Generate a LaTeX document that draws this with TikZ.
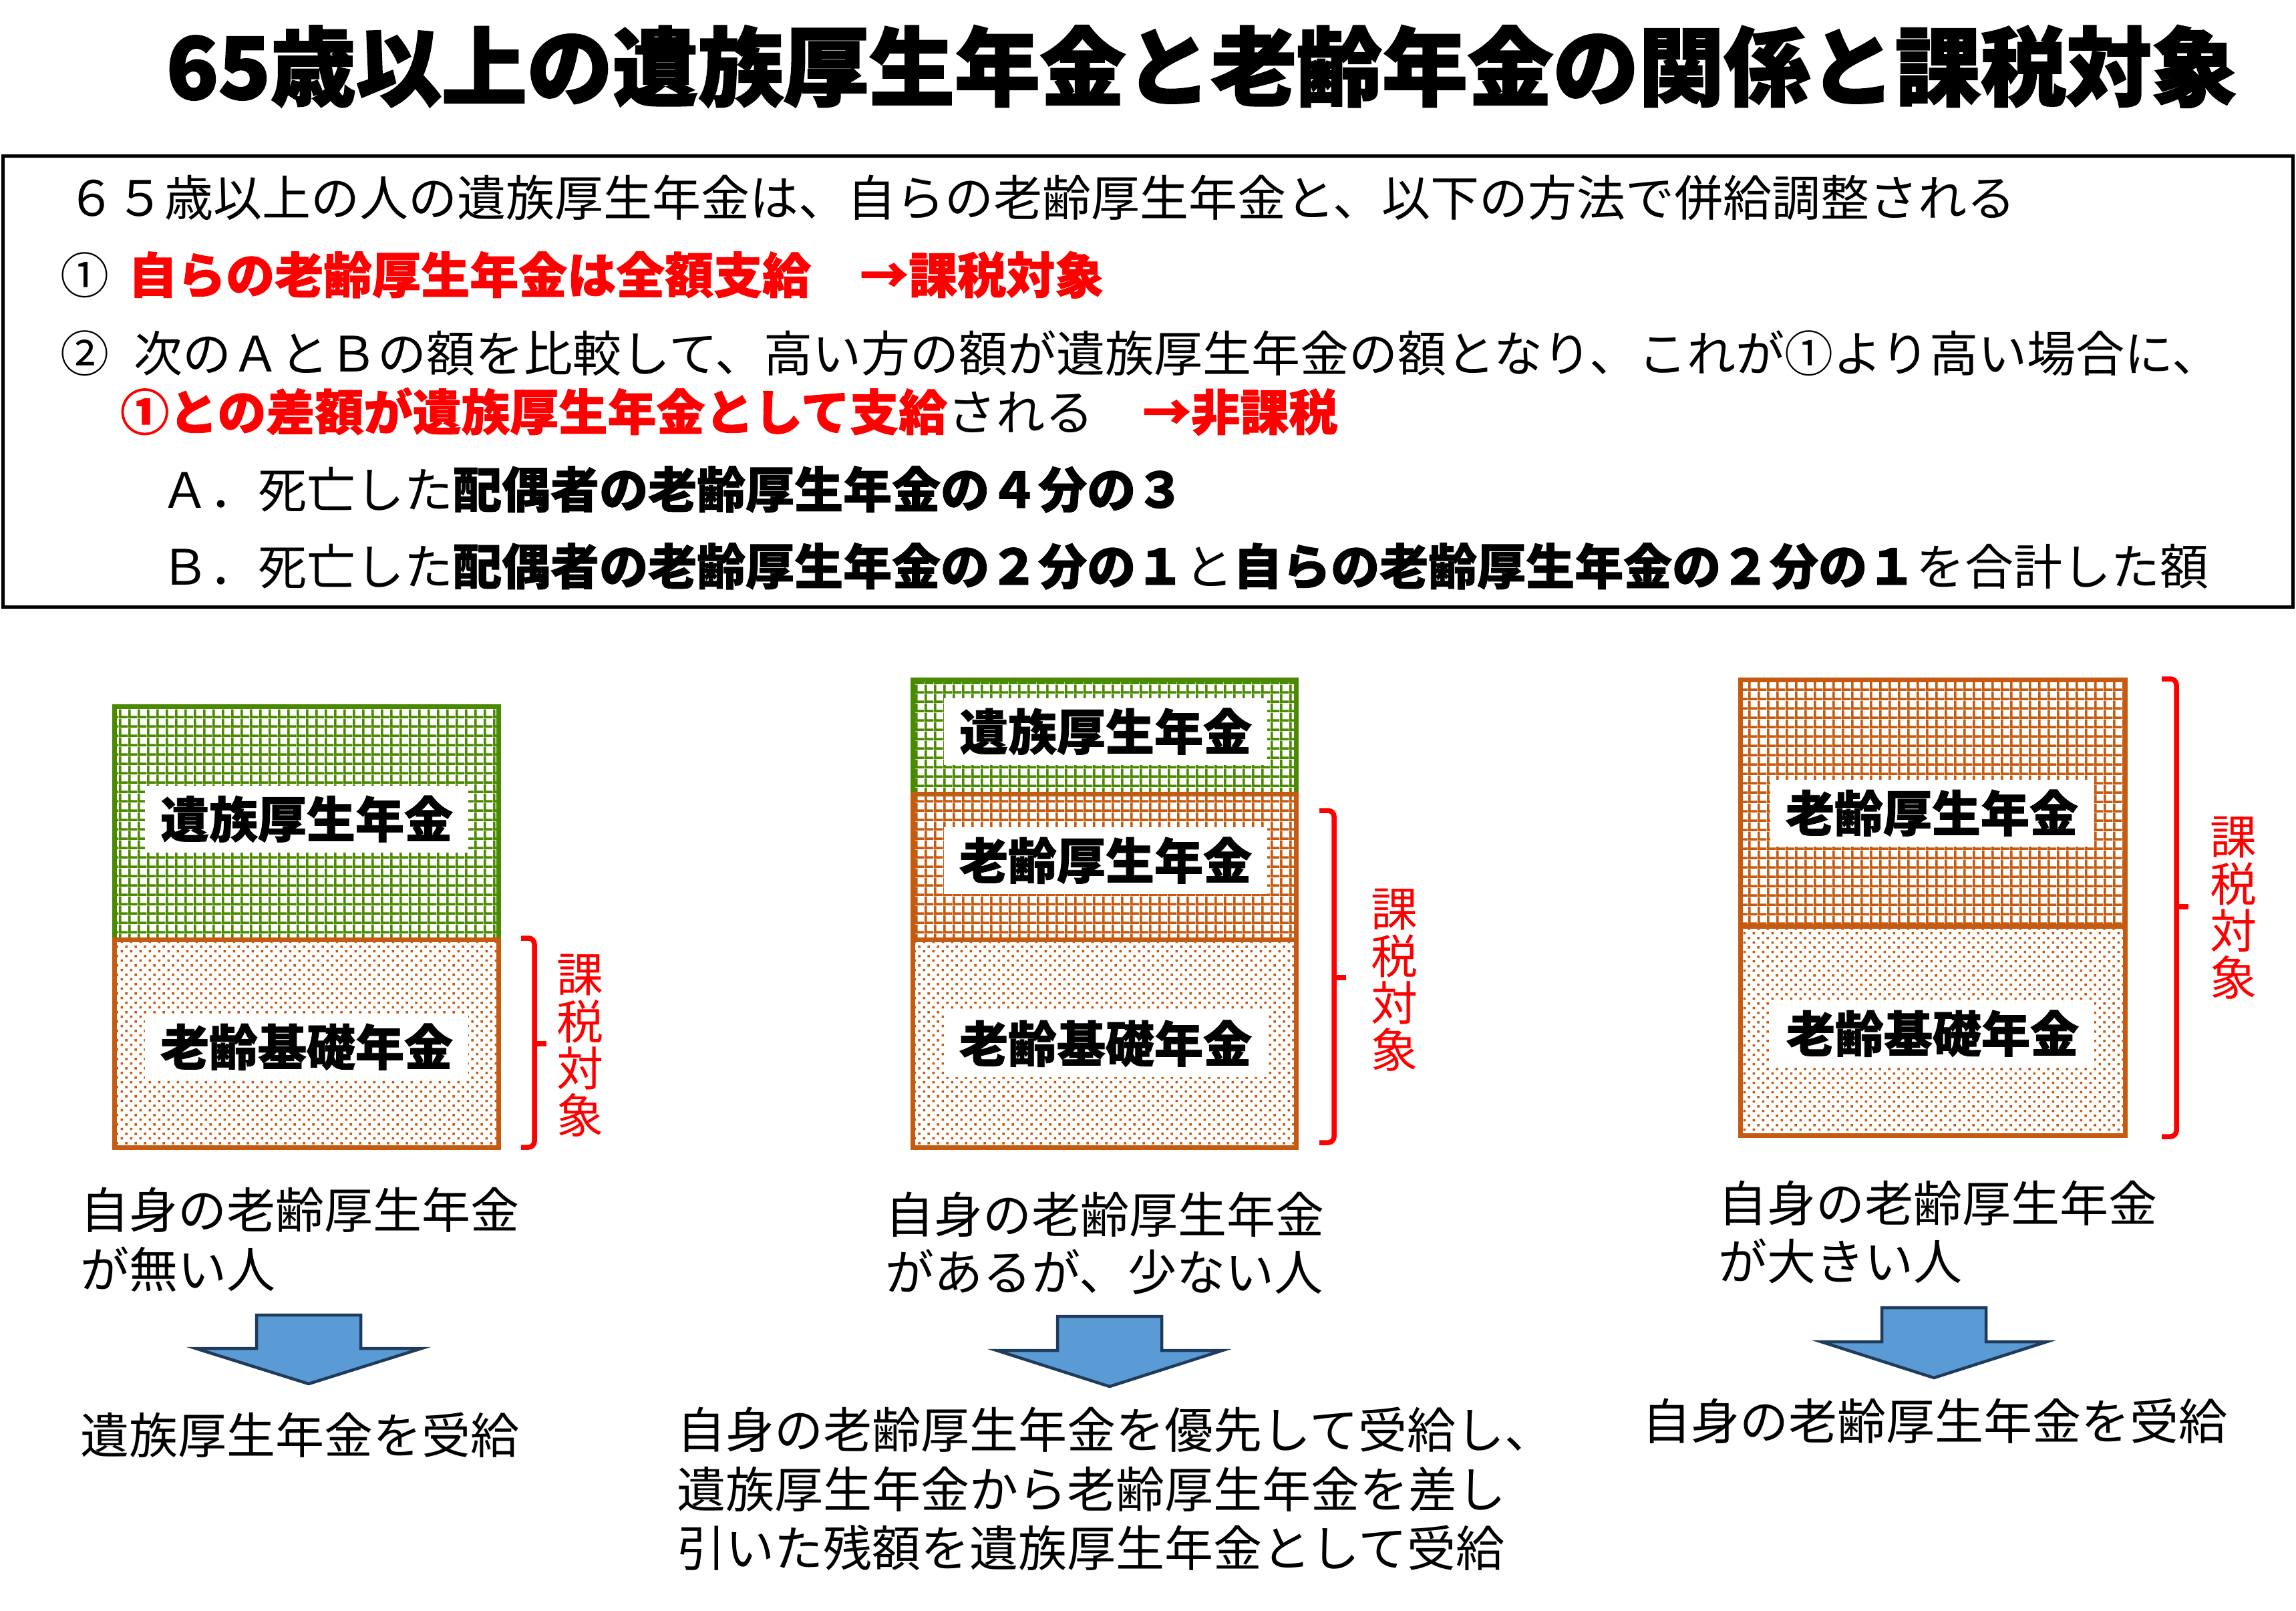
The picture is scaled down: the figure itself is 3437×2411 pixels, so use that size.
\documentclass[tikz,border=0pt]{standalone}
\usepackage{fontspec}
\setmainfont{Noto Sans CJK JP}[BoldFeatures={FakeBold=1.2}]
\newfontfamily\heavyfont{Noto Sans CJK JP}[BoldFeatures={FakeBold=2}]
\usetikzlibrary{patterns}

\definecolor{izokugreen}{HTML}{4A8A00}
\definecolor{roreiorange}{HTML}{C55A11}
\definecolor{arrowblue}{HTML}{5B9BD5}
\definecolor{arrowdark}{HTML}{1F3B5B}

% grid and dots used in the bars
\pgfdeclarepatternformonly{pengrid}{\pgfqpoint{0pt}{0pt}}{\pgfqpoint{13.7pt}{13.7pt}}{\pgfqpoint{13.7pt}{13.7pt}}{%
  \pgfpathrectangle{\pgfqpoint{0pt}{0pt}}{\pgfqpoint{13.7pt}{3.8pt}}%
  \pgfpathrectangle{\pgfqpoint{0pt}{0pt}}{\pgfqpoint{3.8pt}{13.7pt}}%
  \pgfusepath{fill}}
\pgfdeclarepatternformonly{pendots}{\pgfqpoint{0pt}{0pt}}{\pgfqpoint{13.8pt}{13.8pt}}{\pgfqpoint{13.8pt}{13.8pt}}{%
  \pgfpathrectangle{\pgfqpoint{1.7pt}{1.7pt}}{\pgfqpoint{3.5pt}{3.5pt}}%
  \pgfpathrectangle{\pgfqpoint{8.6pt}{8.6pt}}{\pgfqpoint{3.5pt}{3.5pt}}%
  \pgfusepath{fill}}

\tikzset{
  body/.style={anchor=base west, inner sep=0pt, font=\fontsize{73}{73}\selectfont},
  penlabel/.style={fill=white, inner sep=0pt, minimum width=484pt, minimum height=100pt,
    text height=60pt, text depth=5pt, font=\fontsize{73}{73}\selectfont\bfseries},
  taxchar/.style={text=red, inner sep=0pt, font=\fontsize{70}{70}\selectfont},
  taxbrace/.style={draw=red, line width=7.5pt, rounded corners=9pt},
  greenbar/.style={pattern=pengrid, pattern color=izokugreen},
  orangebar/.style={pattern=pengrid, pattern color=roreiorange},
  dotbar/.style={pattern=pendots, pattern color=roreiorange},
  downarrow/.style={fill=arrowblue, draw=arrowdark, line width=4.5pt, line join=miter},
}

\begin{document}
\begin{tikzpicture}[x=1pt, y=-1pt]
    \useasboundingbox (0,0) rectangle (3437,2411);

    % title and the rules
    \node [anchor=base, inner sep=0pt, font=\fontsize{128}{128}\selectfont\heavyfont\bfseries] (title) at(1799,148) {65歳以上の遺族厚生年金と老齢年金の関係と課税対象};
    \draw [line width=5pt] (4,234) rectangle (3432,908);
    \node [body] (rule) at(100,323) {６５歳以上の人の遺族厚生年金は、自らの老齢厚生年金と、以下の方法で併給調整される};
    \node [body] (rule1) at(90,439) {①\hspace{29pt}\textcolor{red}{\bfseries 自らの老齢厚生年金は全額支給　→課税対象}};
    \node [body] (rule2) at(90,556) {②\hspace{37pt}次のＡとＢの額を比較して、高い方の額が遺族厚生年金の額となり、これが①より高い場合に、};
    \node [body] (rule2b) at(180,644) {\textcolor{red}{\bfseries ①との差額が遺族厚生年金として支給}される　\textcolor{red}{\bfseries →非課税}};
    \node [body] (ruleA) at(240,760) {Ａ．死亡した{\bfseries 配偶者の老齢厚生年金の４分の３}};
    \node [body] (ruleB) at(240,875) {Ｂ．死亡した{\bfseries 配偶者の老齢厚生年金の２分の１}と{\bfseries 自らの老齢厚生年金の２分の１}を合計した額};

    % case 1: no own pension
    \fill [greenbar] (171,1057) rectangle (746,1406);
    \fill [dotbar] (171,1406) rectangle (746,1717);
    \node [penlabel] (izoku1) at(459,1226) {遺族厚生年金};
    \node [penlabel] (kiso1) at(459,1567) {老齢基礎年金};
    \draw [izokugreen, line width=7pt] (171,1057) rectangle (746,1406);
    \draw [roreiorange, line width=7pt] (171,1406) rectangle (746,1717);
    \draw [taxbrace] (780,1404) -- (800,1404) -- (800,1717) -- (780,1717);
    \draw [taxbrace] (800,1562) -- (818,1562);
    \foreach \c [count=\i from 0] in {課,税,対,象}
        \node [taxchar] (tax1-\i) at(868,1459+70*\i) {\c};

    % case 2: small own pension
    \fill [greenbar] (1366,1017) rectangle (1940,1188);
    \fill [orangebar] (1366,1188) rectangle (1940,1406);
    \fill [dotbar] (1366,1406) rectangle (1940,1717);
    \node [penlabel] (izoku2) at(1655,1095) {遺族厚生年金};
    \node [penlabel] (kosei2) at(1655,1288) {老齢厚生年金};
    \node [penlabel] (kiso2) at(1655,1562) {老齢基礎年金};
    \draw [izokugreen, line width=7pt] (1366,1017) rectangle (1940,1188);
    \draw [roreiorange, line width=7pt] (1366,1188) rectangle (1940,1717);
    \draw [roreiorange, line width=7pt] (1366,1406) -- (1940,1406);
    \draw [taxbrace] (1975,1213) -- (1997,1213) -- (1997,1710) -- (1975,1710);
    \draw [taxbrace] (1997,1463) -- (2015,1463);
    \foreach \c [count=\i from 0] in {課,税,対,象}
        \node [taxchar] (tax2-\i) at(2087,1361+70*\i) {\c};

    % case 3: large own pension
    \fill [orangebar] (2605,1017) rectangle (3181,1386);
    \fill [dotbar] (2605,1386) rectangle (3181,1699);
    \node [penlabel] (kosei3) at(2892,1217) {老齢厚生年金};
    \node [penlabel] (kiso3) at(2893,1547) {老齢基礎年金};
    \draw [roreiorange, line width=7pt] (2605,1017) rectangle (3181,1699);
    \draw [roreiorange, line width=7pt] (2605,1386) -- (3181,1386);
    \draw [taxbrace] (3236,1016) -- (3258,1016) -- (3258,1701) -- (3236,1701);
    \draw [taxbrace] (3258,1357) -- (3276,1357);
    \foreach \c [count=\i from 0] in {課,税,対,象}
        \node [taxchar] (tax3-\i) at(3343,1253+70*\i) {\c};

    % who gets what
    \node [body] (who1) at(120,1838) {自身の老齢厚生年金};
    \node [body] (who1b) at(120,1927) {が無い人};
    \node [body] (who2) at(1325,1845) {自身の老齢厚生年金};
    \node [body] (who2b) at(1325,1931) {があるが、少ない人};
    \node [body] (who3) at(2572,1828) {自身の老齢厚生年金};
    \node [body] (who3b) at(2572,1915) {が大きい人};

    \foreach \cx/\ya/\yb/\yc in {462/1968/2018/2071, 1661/1970/2021/2075, 2895/1957/2008/2062}
        \filldraw [downarrow] (\cx-78,\ya) -- (\cx+78,\ya) -- (\cx+78,\yb) -- (\cx+169,\yb)
            -- (\cx,\yc) -- (\cx-169,\yb) -- (\cx-78,\yb) -- cycle;

    \node [body] (get1) at(120,2175) {遺族厚生年金を受給};
    \node [body] (get2) at(1013,2167) {自身の老齢厚生年金を優先して受給し、};
    \node [body] (get2b) at(1013,2256) {遺族厚生年金から老齢厚生年金を差し};
    \node [body] (get2c) at(1013,2344) {引いた残額を遺族厚生年金として受給};
    \node [body] (get3) at(2458,2154) {自身の老齢厚生年金を受給};
\end{tikzpicture}
\end{document}
